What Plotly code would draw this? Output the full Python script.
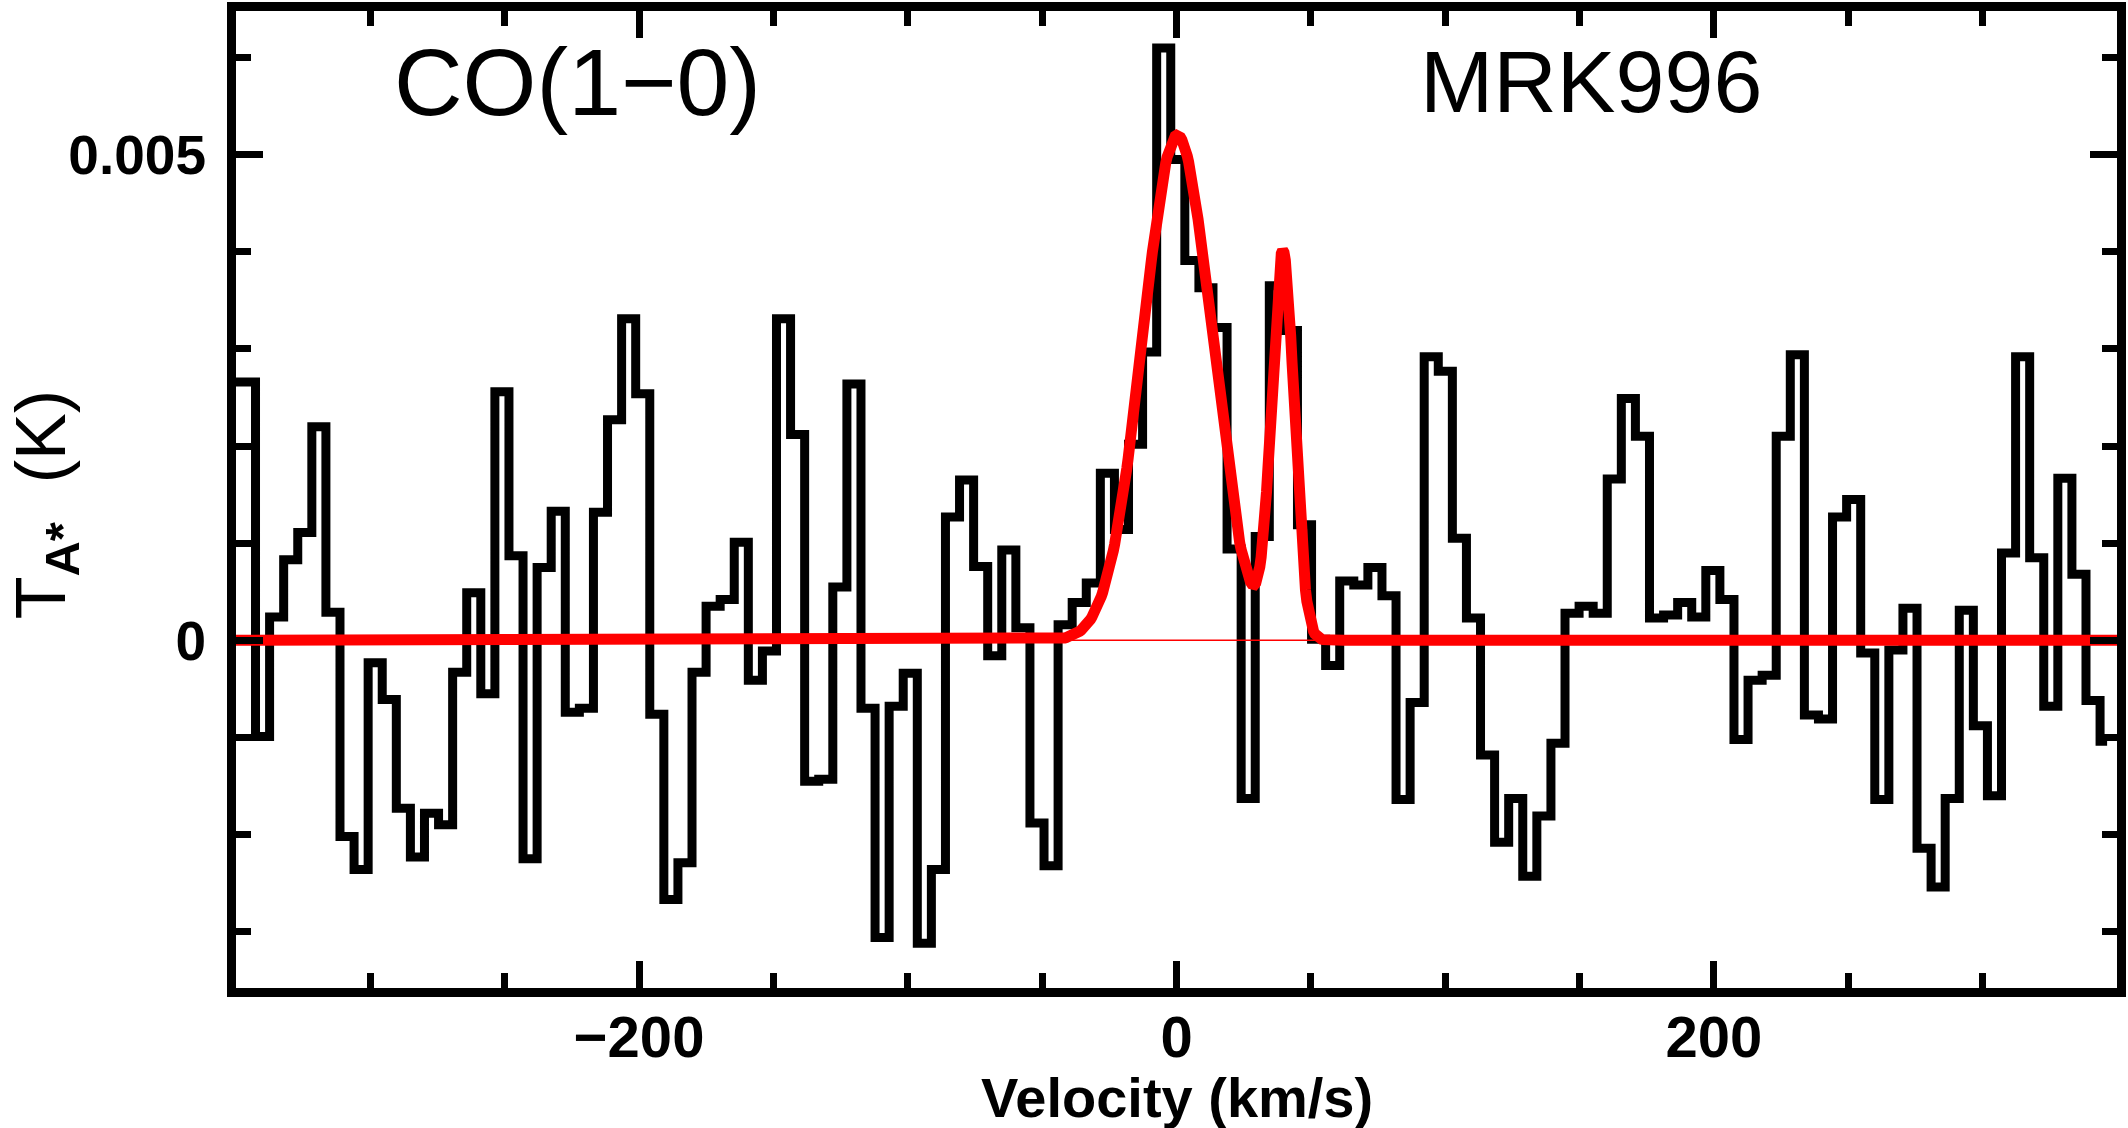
import numpy as np
import plotly.graph_objects as go

# CO(1-0) spectrum of MRK996, antenna temperature in mK per channel
chan_v0 = -350.6      # centre of first channel (km/s)
chan_dv = 5.24        # channel width (km/s)
t_mk = [
    2.66, 2.66, -0.99, 0.24, 0.83, 1.11, 2.20, 0.29, -2.02, -2.36,
    -0.23, -0.61, -1.73, -2.23, -1.78, -1.90, -0.33, 0.49, -0.55, 2.56,
    0.87, -2.25, 0.75, 1.33, -0.74, -0.70, 1.32, 2.27, 3.31, 2.54,
    -0.76, -2.67, -2.29, -0.33, 0.35, 0.42, 1.01, -0.41, -0.11, 3.31,
    2.12, -1.45, -1.43, 0.55, 2.64, -0.70, -3.06, -0.68, -0.34, -3.12,
    -2.36, 1.27, 1.65, 0.76, -0.16, 0.93, 0.13, -1.88, -2.32, 0.16,
    0.39, 0.59, 1.72, 1.14, 2.02, 2.97, 6.10, 4.95, 3.91, 3.63,
    3.22, 0.94, -1.63, 1.07, 3.65, 3.19, 1.19, 0.01, -0.26, 0.61,
    0.57, 0.75, 0.46, -1.64, -0.64, 2.92, 2.77, 1.05, 0.23, -1.18,
    -2.08, -1.63, -2.43, -1.81, -1.06, 0.28, 0.35, 0.28, 1.66, 2.49,
    2.10, 0.23, 0.26, 0.39, 0.24, 0.72, 0.42, -1.02, -0.41, -0.36,
    2.10, 2.94, -0.77, -0.81, 1.27, 1.45, -0.13, -1.64, -0.10, 0.33,
    -2.14, -2.54, -1.63, 0.31, -0.88, -1.60, 0.90, 2.92, 0.85, -0.68,
    1.67, 0.68, -0.62, -1.04,
]

# two-gaussian fit (amplitude mK, centre km/s, sigma km/s)
fit_amp = [5.20, 3.97]
fit_cen = [0.3, 39.6]
fit_sig = [12.8, 4.15]

x_ticks = [-200, 0, 200]
x_ticktext = ["\u2212200", "0", "200"]
y_ticks = [0, 0.005]
y_ticktext = ["0", "0.005"]

spec = np.array(t_mk) * 1e-3
vfit = np.linspace(-350, 350, 1401)
tfit = np.zeros_like(vfit)
for a, c, s in zip(fit_amp, fit_cen, fit_sig):
    tfit += a * 1e-3 * np.exp(-(vfit - c) ** 2 / (2 * s ** 2))

fig = go.Figure()
fig.add_trace(go.Scatter(x0=chan_v0, dx=chan_dv, y=spec, mode="lines",
                         line=dict(color="black", width=9, shape="hvh"),
                         showlegend=False))
fig.add_trace(go.Scatter(x=[-350, 350], y=[0, 0], mode="lines",
                         line=dict(color="#ff0000", width=1.5), showlegend=False))
fig.add_trace(go.Scatter(x=vfit, y=tfit, mode="lines",
                         line=dict(color="#ff0000", width=11), showlegend=False))

xfont = dict(family="Liberation Sans", size=58, color="black", weight="bold")
yfont = dict(family="Liberation Sans", size=55, color="black", weight="bold")
fig.update_xaxes(range=[-350, 350], tickvals=x_ticks, ticktext=x_ticktext,
                 ticks="inside", ticklen=27, tickwidth=7, tickcolor="black",
                 minor=dict(dtick=50, tick0=0, ticks="inside", ticklen=15,
                            tickwidth=7, tickcolor="black", showgrid=False),
                 showline=True, linewidth=9, linecolor="black", mirror="allticks",
                 showgrid=False, zeroline=False, tickfont=xfont,
                 ticklabelstandoff=-10)
fig.update_yaxes(range=[-0.00358, 0.00648], tickvals=y_ticks, ticktext=y_ticktext,
                 ticks="inside", ticklen=27, tickwidth=7, tickcolor="black",
                 minor=dict(dtick=0.001, tick0=0, ticks="inside", ticklen=15,
                            tickwidth=7, tickcolor="black", showgrid=False),
                 showline=True, linewidth=9, linecolor="black", mirror="allticks",
                 showgrid=False, zeroline=False, tickfont=yfont,
                 ticklabelstandoff=10)

fig.add_annotation(x=-292, y=0.00575, xref="x", yref="y", text="CO(1\u22120)",
                   showarrow=False, xanchor="left", yanchor="middle",
                   font=dict(family="Liberation Sans", size=95, color="black"))
fig.add_annotation(x=90, y=0.00575, xref="x", yref="y", text="MRK996",
                   showarrow=False, xanchor="left", yanchor="middle",
                   font=dict(family="Liberation Sans", size=88, color="black"))
fig.add_annotation(x=0, y=0.00139, xref="paper", yref="y", xshift=-236,
                   text="T<sub><b>A*</b></sub>&nbsp; (K)", textangle=-90,
                   showarrow=False, xanchor="left", yanchor="middle",
                   font=dict(family="Liberation Sans", size=70, color="black"))
fig.add_annotation(x=0.5, y=0, xref="paper", yref="paper", yshift=-76,
                   text="<b>Velocity (km/s)</b>", showarrow=False,
                   xanchor="center", yanchor="top",
                   font=dict(family="Liberation Sans", size=56, color="black"))

fig.update_layout(width=2128, height=1128, plot_bgcolor="white",
                  paper_bgcolor="white",
                  margin=dict(l=236, r=5, t=2, b=140))

fig.write_html("out.html", config={"displayModeBar": False},
               post_script="document.body.style.margin='0';")
